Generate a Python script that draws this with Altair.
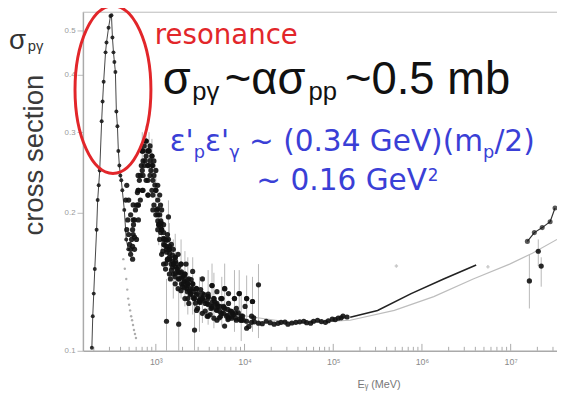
import altair as alt
import pandas as pd

# ---------------- data ----------------
# Delta-resonance peak (two steep branches)
res_E = [190, 194.5, 199.5, 205, 215, 221, 227, 233, 245, 251, 258, 271, 278, 293, 308,
         316, 324, 333, 341, 350, 359, 369, 378, 388, 398, 408, 419, 441, 464, 489]
res_S = [0.1015, 0.119, 0.1333, 0.1508, 0.1838, 0.2133, 0.2298, 0.2475, 0.317, 0.35,
         0.3865, 0.448, 0.471, 0.507, 0.538, 0.54, 0.483, 0.448, 0.4267, 0.406,
         0.333, 0.309, 0.273, 0.2537, 0.2414, 0.2355, 0.224, 0.203, 0.175, 0.1665]

# dense cloud: dip, second bump, decline and plateau
cloud_E = [458, 470, 482, 494, 507, 520, 533, 547, 560, 575, 589, 620, 636, 652, 686,
           703, 720, 739, 758, 777, 817, 838, 860, 880, 904, 951, 975, 1000, 1025, 1051,
           1078, 1105, 1130, 1150, 1163, 1200, 1223, 1223, 1260, 1300, 1319, 1350, 1387,
           1422, 1460, 1500, 1573, 1573, 1650, 1700, 1783, 1783, 1783, 1900, 2000, 2020,
           2100, 2190, 2294, 2294, 2400, 2500, 2600, 2600, 2700, 2800, 2951, 2951, 3100,
           3200, 3350, 3350, 3600, 3796, 3796, 3900, 4100, 4300, 4300, 4600, 4883, 4883,
           5000, 5200, 5540, 5540, 5800, 5960, 6282, 6500, 6600, 6900, 7130, 7500, 7700,
           8081, 8500, 9170, 9500, 10150, 10560, 11190, 12000, 12720, 14360, 17560,
           21550, 25800, 30830, 37860, 46530, 55620, 66540, 81630, 97550, 113800, 128800]
cloud_S = [0.2133, 0.1838, 0.193, 0.1794, 0.1707, 0.1624, 0.175, 0.169, 0.1885, 0.177,
           0.203, 0.2215, 0.208, 0.2355, 0.2537, 0.2475, 0.273, 0.28, 0.26, 0.266, 0.254,
           0.273, 0.26, 0.2475, 0.254, 0.2414, 0.23, 0.224, 0.203, 0.2133, 0.1885, 0.198,
           0.208, 0.19, 0.1838, 0.165, 0.175, 0.1546, 0.17, 0.155, 0.1665, 0.158, 0.175,
           0.16, 0.1435, 0.15, 0.1546, 0.1665, 0.145, 0.155, 0.149, 0.1624, 0.1366, 0.148,
           0.138, 0.145, 0.142, 0.1546, 0.14, 0.13, 0.135, 0.143, 0.1366, 0.149, 0.13,
           0.127, 0.1333, 0.1237, 0.128, 0.136, 0.13, 0.1435, 0.122, 0.1269, 0.119, 0.133,
           0.12, 0.125, 0.1388, 0.128, 0.1225, 0.1166, 0.125, 0.118, 0.1207, 0.13, 0.125,
           0.1132, 0.119, 0.117, 0.1333, 0.122, 0.1178, 0.12, 0.13, 0.1166, 0.121, 0.1166,
           0.119, 0.125, 0.116, 0.113, 0.1154, 0.118, 0.1149, 0.116, 0.1143, 0.1154,
           0.1143, 0.1154, 0.116, 0.1149, 0.1166, 0.1154, 0.1172, 0.1178, 0.119]

# more of the same cloud (upper and lower parts of the band)
cloud2_E = [470, 494, 520, 547, 575, 605, 575, 547, 520, 605, 636, 636, 669, 669,
            703, 703, 739, 777, 777, 817, 817, 860, 860, 904, 904, 951, 951, 1000, 1000,
            1051, 1051, 1105, 1105, 1163, 1163, 1223, 1286, 1286, 1352, 1352, 1422, 1422,
            1495, 1495, 1573, 1654, 1654, 1739, 1830, 1924, 1924, 2024, 2128, 2128, 2238,
            2354, 2354, 2475, 2603, 2738, 2879, 2879, 3103, 3345, 3345, 3606, 3887, 3887,
            4190, 4516, 4516, 4883, 5390, 5390, 5970, 6600, 6600, 7300, 8081, 9170, 10560,
            12000, 4883, 5970, 8710, 10560, 12290]
cloud2_S = [0.2297, 0.2133, 0.198, 0.1838, 0.1665, 0.175, 0.193, 0.1585, 0.1665, 0.208,
            0.224, 0.193, 0.2414, 0.2133, 0.273, 0.224, 0.2537, 0.287, 0.2355, 0.273,
            0.2187, 0.2414, 0.28, 0.224, 0.266, 0.2597, 0.208, 0.2475, 0.198, 0.2297,
            0.1838, 0.2187, 0.175, 0.203, 0.1624, 0.1885, 0.175, 0.1508, 0.1794, 0.1585,
            0.1665, 0.1471, 0.1707, 0.1546, 0.1471, 0.16, 0.14, 0.1508, 0.1435, 0.1546,
            0.1353, 0.14, 0.1471, 0.13, 0.1366, 0.1435, 0.1269, 0.1333, 0.14, 0.13, 0.1366,
            0.1225, 0.1287, 0.1333, 0.1207, 0.1269, 0.1313, 0.119, 0.1237, 0.13, 0.1178,
            0.1269, 0.119, 0.13, 0.1237, 0.1178, 0.1269, 0.1207, 0.1237, 0.119, 0.112,
            0.119, 0.1346, 0.1366, 0.1333, 0.13, 0.1281]

# core of the dense band (decline region)
cloud3_E = [1052, 1052, 1052, 1137, 1137, 1137, 1227, 1227, 1227, 1325, 1325, 1325,
            1431, 1431, 1431, 1545, 1545, 1545, 1668, 1668, 1668, 1801, 1801, 1801,
            1945, 1945, 1945, 2100, 2100, 2100, 2268, 2268, 2268, 2448, 2448, 2644, 2644,
            2854, 2854, 3162, 3162, 3503, 3503, 3881, 3881, 4299, 4299, 4763, 4763,
            5275, 5275, 5843, 5843, 6474, 6474, 7171, 7171, 7943, 7943, 8799, 9747]
cloud3_S = [0.198, 0.2041, 0.1921, 0.1866, 0.1921, 0.1812, 0.1759, 0.1812, 0.1707,
            0.169, 0.1742, 0.1641, 0.1633, 0.1585, 0.169, 0.1569, 0.1617, 0.1523,
            0.1523, 0.1569, 0.1479, 0.1479, 0.1523, 0.1435, 0.1442, 0.14, 0.1486,
            0.1414, 0.1373, 0.1457, 0.1386, 0.1346, 0.1428, 0.1366, 0.1326, 0.1346,
            0.1306, 0.1326, 0.1366, 0.1306, 0.1275, 0.1287, 0.1326, 0.1262, 0.13,
            0.1243, 0.1275, 0.1231, 0.1262, 0.1219, 0.125, 0.1207, 0.1243, 0.1195,
            0.1231, 0.1189, 0.1219, 0.1178, 0.1207, 0.1172, 0.1166]

# core of the second bump
bump3_E = [717, 717, 717, 815, 815, 815, 815, 926, 926, 926, 926, 631, 631, 631,
           555, 555, 555]
bump3_S = [0.2597, 0.2414, 0.224, 0.273, 0.2537, 0.2355, 0.2187, 0.2537, 0.2355,
           0.2187, 0.203, 0.2414, 0.224, 0.2081, 0.2081, 0.193, 0.1794]

# plateau points between the sparse ones
plat_E = [12920, 15850, 19450, 23870, 28550, 34150, 41900, 50120, 59950, 73560, 88000,
          105260, 122700, 143100]
plat_S = [0.1157, 0.1146, 0.1152, 0.1148, 0.1155, 0.115, 0.1157, 0.1152, 0.116, 0.1158,
          0.1163, 0.117, 0.118, 0.1185]

# points with error bars
err_E = [703, 777, 838, 904, 1000, 1078, 1163, 1319, 1387, 1422, 1573, 1654, 1810, 1924,
         2128, 2294, 2603, 2730, 3103, 3350, 3887, 4300, 4516, 5540, 5970, 7700, 8710,
         9170, 10560, 12290, 14360, 1.626e7, 2.048e7, 2.21e7]
err_S = [0.273, 0.287, 0.273, 0.266, 0.224, 0.1885, 0.1838, 0.116, 0.196, 0.1665, 0.1546,
         0.16, 0.1143, 0.1546, 0.1471, 0.14, 0.14, 0.111, 0.1288, 0.13, 0.1313, 0.1388,
         0.13, 0.13, 0.1366, 0.13, 0.1333, 0.1166, 0.13, 0.1281, 0.1393, 0.1421, 0.1649,
         0.1531]
err_lo = [0.25, 0.26, 0.25, 0.24, 0.20, 0.17, 0.16, 0.1, 0.171, 0.145, 0.13, 0.14, 0.1,
          0.13, 0.125, 0.12, 0.12, 0.1, 0.11, 0.115, 0.114, 0.12, 0.112, 0.113, 0.118,
          0.11, 0.115, 0.105, 0.112, 0.11, 0.1066, 0.1237, 0.1531, 0.138]
err_hi = [0.30, 0.31, 0.30, 0.29, 0.25, 0.21, 0.21, 0.1435, 0.213, 0.19, 0.175, 0.18,
          0.1366, 0.175, 0.165, 0.16, 0.16, 0.1366, 0.145, 0.145, 0.15, 0.155, 0.148,
          0.145, 0.155, 0.15, 0.15, 0.135, 0.146, 0.145, 0.1546, 0.1624, 0.175, 0.16]

# high-energy points
hi_E = [1.543e7, 1.849e7, 2.269e7, 2.786e7, 3.164e7]
hi_S = [0.1733, 0.1811, 0.1857, 0.1913, 0.205]

# fitted curves
fitd_E = [1.552e5, 3.162e5, 7.555e5, 1.755e6, 4.088e6]
fitd_S = [0.1183, 0.1225, 0.1333, 0.1435, 0.1539]
fitl_E = [1223, 2294, 4883, 10560, 37860, 1.552e5, 4.884e5, 1.36e6, 3.781e6, 9.737e6,
          1.757e7, 3.33e7]
fitl_S = [0.1665, 0.1435, 0.1269, 0.119, 0.1149, 0.1166, 0.1225, 0.1313, 0.1435, 0.1546,
          0.1633, 0.175]
delta_E = [430, 447, 464, 476, 488, 500, 513, 527, 540, 553, 567, 582, 597]
delta_S = [0.1585, 0.151, 0.1435, 0.136, 0.13, 0.126, 0.1225, 0.119, 0.1166, 0.1138,
           0.111, 0.1088, 0.1066]
faint_E = [5.149e5, 5.543e6]
faint_S = [0.1531, 0.1525]

# axis ticks
major_ticks = [1e3, 1e4, 1e5, 1e6, 1e7]
minor_ticks = [200, 300, 400, 500, 600, 700, 800, 900,
               2e3, 3e3, 4e3, 5e3, 6e3, 7e3, 8e3, 9e3,
               2e4, 3e4, 4e4, 5e4, 6e4, 7e4, 8e4, 9e4,
               2e5, 3e5, 4e5, 5e5, 6e5, 7e5, 8e5, 9e5,
               2e6, 3e6, 4e6, 5e6, 6e6, 7e6, 8e6, 9e6, 2e7, 3e7]
y_ticks = [0.1, 0.2, 0.3, 0.4, 0.5]

# annotations (anchored in data coordinates)
ell_E, ell_S = [328.6], [0.3714]
lab_txt, lab_E, lab_S = ["σ"], [22.1], [0.455]
labsub_txt, labsub_E, labsub_S = ["pγ"], [35.9], [0.4505]
reso_txt, reso_E, reso_S = ["resonance"], [974.7], [0.4665]
big_txt, big_E, big_S = ["σ", "~ασ", "~0.5 mb"], [1196, 5995, 1.36e5], [0.364, 0.364, 0.364]
bigsub_txt, bigsub_E, bigsub_S = ["pγ", "pp"], [2577, 52760], [0.3534, 0.3534]
b1_txt = ["ε'", "ε'", "~ (0.34 GeV)(m", "/2)"]
b1_E = [1431, 3594, 11220, 6.556e6]
b1_S = [0.273, 0.273, 0.273, 0.273]
b1sub_txt, b1sub_E, b1sub_S = ["p", "γ", "p"], [2677, 6727, 4.887e6], [0.2639, 0.2639, 0.2639]
b2_txt, b2_E, b2_S = ["~ 0.16 GeV"], [13590], [0.224]
b2sup_txt, b2sup_E, b2sup_S = ["2"], [1.166e6], [0.2344]

# ---------------- chart ----------------
FONT = "Liberation Sans"
FONT2 = "DejaVu Sans"
W, H = 481, 344
xscale = alt.Scale(type="log", domain=[150.6, 3.33e7], nice=False)
yscale = alt.Scale(type="log", domain=[0.1, 0.5495], nice=False)

xaxis = alt.Axis(values=major_ticks, ticks=False, grid=False, labelFontSize=9,
                 labelColor="#8a8a8a", labelPadding=7, domainColor="#aaaaaa",
                 domainWidth=1.5,
                 labelExpr="'10' + ['⁰','¹','²','³','⁴','⁵','⁶','⁷','⁸'][round(log(datum.value)/LN10)]",
                 titleFontSize=11, titleColor="#777777", titleFontWeight="normal",
                 titleX=300, titleY=37, titleBaseline="alphabetic", titleAlign="center")
yaxis = alt.Axis(values=y_ticks, format=".1f", grid=False, labelFontSize=8,
                 labelColor="#999999", tickColor="#bbbbbb", tickSize=6, labelPadding=2,
                 domainColor="#aaaaaa", domainWidth=1.5,
                 titleFontSize=28, titleColor="#3a3a3a", titleFontWeight="normal",
                 titleAngle=270, titleX=-41, titleY=145, titleAlign="center",
                 titleBaseline="alphabetic")


def X(f="E"):
    return alt.X(f + ":Q", scale=xscale, axis=xaxis, title="Eᵧ (MeV)")


def Y(f="S"):
    return alt.Y(f + ":Q", scale=yscale, axis=yaxis, title="cross section")


def df(E, S, **extra):
    d = {"E": E, "S": S}
    d.update(extra)
    return pd.DataFrame(d)


layers = []

# border on top
layers.append(alt.Chart(pd.DataFrame({"a": [0]})).mark_rule(color="#bbbbbb", strokeWidth=1)
              .encode(x=alt.value(0), x2=alt.value(W), y=alt.value(0.5)))

# inward ticks
layers.append(alt.Chart(pd.DataFrame({"E": minor_ticks})).mark_rule(color="#aaaaaa")
              .encode(x=X(), y=alt.value(H - 4), y2=alt.value(H)))
layers.append(alt.Chart(pd.DataFrame({"E": major_ticks})).mark_rule(color="#aaaaaa")
              .encode(x=X(), y=alt.value(H - 7), y2=alt.value(H)))

# error bars
layers.append(alt.Chart(df(err_E, err_S, lo=err_lo, hi=err_hi))
              .mark_rule(color="#b8b8b8", strokeWidth=1)
              .encode(x=X(), y=Y("lo"), y2=alt.Y2("hi:Q")))

# fits
layers.append(alt.Chart(df(fitl_E, fitl_S)).mark_line(color="#bdbdbd", strokeWidth=1.2)
              .encode(x=X(), y=Y()))
layers.append(alt.Chart(df(delta_E, delta_S)).mark_point(color="#8a8a8a", filled=True, size=6)
              .encode(x=X(), y=Y()))
layers.append(alt.Chart(df(faint_E, faint_S)).mark_point(color="#b0b0b0", shape="cross", filled=True, size=12)
              .encode(x=X(), y=Y()))
layers.append(alt.Chart(df(fitd_E, fitd_S)).mark_line(color="#222222", strokeWidth=1.6)
              .encode(x=X(), y=Y()))

# resonance branches
layers.append(alt.Chart(df(res_E, res_S)).mark_line(color="#444444", strokeWidth=1)
              .encode(x=X(), y=Y()))
layers.append(alt.Chart(df(res_E, res_S)).mark_point(color="#1a1a1a", filled=True, size=16, opacity=0.9)
              .encode(x=X(), y=Y()))

# cloud
for e, s in [(cloud_E, cloud_S), (cloud2_E, cloud2_S), (cloud3_E, cloud3_S),
             (bump3_E, bump3_S), (plat_E, plat_S), (err_E, err_S)]:
    layers.append(alt.Chart(df(e, s)).mark_point(color="#111111", filled=True, size=28, opacity=0.9)
                  .encode(x=X(), y=Y()))
layers.append(alt.Chart(df(hi_E, hi_S)).mark_line(color="#333333", strokeWidth=1.2)
              .encode(x=X(), y=Y()))
layers.append(alt.Chart(df(hi_E, hi_S)).mark_point(color="#111111", filled=True, size=26)
              .encode(x=X(), y=Y()))

# red ellipse
ellipse = "M -0.453 0 A 0.453 1 0 1 0 0.453 0 A 0.453 1 0 1 0 -0.453 0 Z"
layers.append(alt.Chart(df(ell_E, ell_S)).mark_point(shape=ellipse, size=28900, filled=False,
                                                     stroke="#e2262a", strokeWidth=3, opacity=1)
              .encode(x=X(), y=Y()))


def text_layer(E, S, txt, size, color, font=FONT):
    return (alt.Chart(df(E, S, t=txt))
            .mark_text(align="left", baseline="alphabetic", font=font, fontSize=size, color=color)
            .encode(x=X(), y=Y(), text="t:N"))


BLUE = "#3a3fd6"
layers += [
    text_layer(lab_E, lab_S, lab_txt, 28, "#333333"),
    text_layer(labsub_E, labsub_S, labsub_txt, 15, "#333333"),
    text_layer(reso_E, reso_S, reso_txt, 28, "#e2262a", FONT2),
    text_layer(big_E, big_S, big_txt, 46, "#111111"),
    text_layer(bigsub_E, bigsub_S, bigsub_txt, 26, "#111111"),
    text_layer(b1_E, b1_S, b1_txt, 30, BLUE, FONT2),
    text_layer(b1sub_E, b1sub_S, b1sub_txt, 18, BLUE, FONT2),
    text_layer(b2_E, b2_S, b2_txt, 30, BLUE, FONT2),
    text_layer(b2sup_E, b2sup_S, b2sup_txt, 17, BLUE, FONT2),
]

chart = (alt.layer(*layers)
         .properties(width=W, height=H,
                     padding={"left": 76, "top": 1, "right": 0, "bottom": 38},
                     autosize=alt.AutoSizeParams(type="none"))
         .configure_view(strokeWidth=0)
         .configure_axis(labelFont=FONT, titleFont=FONT))

chart.save("out.html", embed_options={"renderer": "svg", "actions": False})
